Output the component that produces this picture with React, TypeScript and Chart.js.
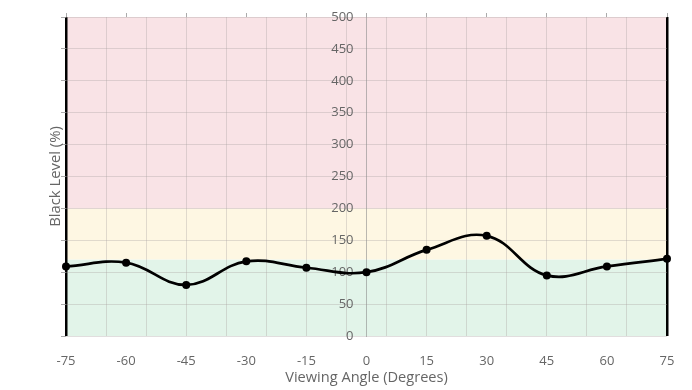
import React, { useEffect, useRef } from "react";
import { Chart, registerables } from "chart.js";

Chart.register(...registerables);

const ANGLES = [-75, -60, -45, -30, -15, 0, 15, 30, 45, 60, 75];
const BLACK_LEVEL = [109, 115, 80, 117, 107, 100, 135, 157, 95, 109, 121];
const X_TICKS = [-75, -60, -45, -30, -15, 0, 15, 30, 45, 60, 75];
const X_GRID = [-75, -65, -55, -45, -35, -25, -15, -5, 5, 15, 25, 35, 45, 55, 65, 75];
const BAND_FROM = [0, 120, 200];
const BAND_TO = [120, 200, 500];
const BAND_COLORS = ["#e2f4e9", "#fef7e3", "#f9e3e6"];

const FONT = "'Open Sans', 'Noto Sans', sans-serif";
const GRID = "rgba(170,160,160,0.35)";
const TICK_MARK = "rgba(150,150,150,0.8)";
const TEXT = "#666";

const bandsPlugin = {
  id: "bands",
  beforeDraw(chart: any) {
    const { ctx, chartArea, scales } = chart;
    const y = scales.y;
    ctx.save();
    for (let i = 0; i < BAND_FROM.length; i++) {
      const top = y.getPixelForValue(BAND_TO[i]);
      const bot = y.getPixelForValue(BAND_FROM[i]);
      ctx.fillStyle = BAND_COLORS[i];
      ctx.fillRect(chartArea.left, top, chartArea.right - chartArea.left, bot - top);
    }
    ctx.restore();
  },
};

export default function App() {
  const ref = useRef<HTMLCanvasElement>(null);
  useEffect(() => {
    document.body.style.margin = "0";
    const chart = new Chart(ref.current!, {
      type: "line",
      data: {
        datasets: [
          {
            data: ANGLES.map((a, i) => ({ x: a, y: BLACK_LEVEL[i] })),
            borderColor: "#000",
            backgroundColor: "#000",
            borderWidth: 2.7,
            pointRadius: 4,
            pointBackgroundColor: "#000",
            pointBorderWidth: 0,
            tension: 0.4,
            clip: false as any,
            xAxisID: "x",
            yAxisID: "y",
          },
        ],
      },
      options: {
        responsive: false,
        animation: false,
        layout: { padding: { top: 13, right: 25, left: 44, bottom: 0 } },
        plugins: { legend: { display: false }, tooltip: { enabled: false } },
        scales: {
          x: {
            type: "linear",
            position: "bottom",
            min: -75,
            max: 75,
            afterBuildTicks: (axis: any) => {
              axis.ticks = X_TICKS.map((v) => ({ value: v }));
            },
            afterFit: (s: any) => {
              s.height = 54;
            },
            grid: { display: false, drawOnChartArea: false, drawTicks: false },
            border: { display: false },
            ticks: { color: TEXT, font: { family: FONT, size: 13 }, padding: 17 },
            title: {
              display: true,
              text: "Viewing Angle (Degrees)",
              color: TEXT,
              font: { family: FONT, size: 14.6 },
              padding: { top: 0, bottom: 3 },
            },
          },
          xGrid: {
            type: "linear",
            axis: "x",
            position: "bottom",
            min: -75,
            max: 75,
            afterBuildTicks: (axis: any) => {
              axis.ticks = X_GRID.map((v) => ({ value: v }));
            },
            afterFit: (s: any) => {
              s.height = 0;
            },
            grid: {
              drawTicks: false,
              color: (c: any) => (Math.abs(c.tick?.value) === 75 ? "#000" : GRID),
              lineWidth: (c: any) => (Math.abs(c.tick?.value) === 75 ? 2.5 : 1),
            },
            border: { display: false },
            ticks: { display: false },
          },
          xTop: {
            type: "linear",
            axis: "x",
            position: "top",
            min: -75,
            max: 75,
            afterBuildTicks: (axis: any) => {
              axis.ticks = X_TICKS.map((v) => ({ value: v }));
            },
            grid: { drawOnChartArea: false, drawTicks: true, tickLength: 4, color: TICK_MARK },
            border: { display: false },
            ticks: { display: false },
          },
          y: {
            type: "linear",
            position: "center",
            min: 0,
            max: 500,
            afterFit: (s: any) => {
              s.paddingTop = 0;
              s.paddingBottom = 0;
            },
            ticks: { stepSize: 50, color: TEXT, font: { family: FONT, size: 13 }, padding: 13 },
            grid: { color: GRID, drawTicks: false },
            border: { color: "rgba(140,140,140,0.6)" },
          },
          yLeft: {
            type: "linear",
            axis: "y",
            position: "left",
            min: 0,
            max: 500,
            afterFit: (s: any) => {
              s.width = 22;
            },
            ticks: { display: false, stepSize: 50 },
            grid: { drawOnChartArea: false, drawTicks: true, tickLength: 5, color: TICK_MARK },
            border: { display: false },
            title: {
              display: true,
              text: "Black Level (%)",
              color: TEXT,
              font: { family: FONT, size: 14.8, lineHeight: 1 },
              padding: { top: 4, bottom: 0 },
            },
          },
        },
      } as any,
      plugins: [bandsPlugin],
    });
    return () => chart.destroy();
  }, []);
  return (
    <div style={{ width: 692, height: 390 }}>
      <canvas ref={ref} width={692} height={390} />
    </div>
  );
}
